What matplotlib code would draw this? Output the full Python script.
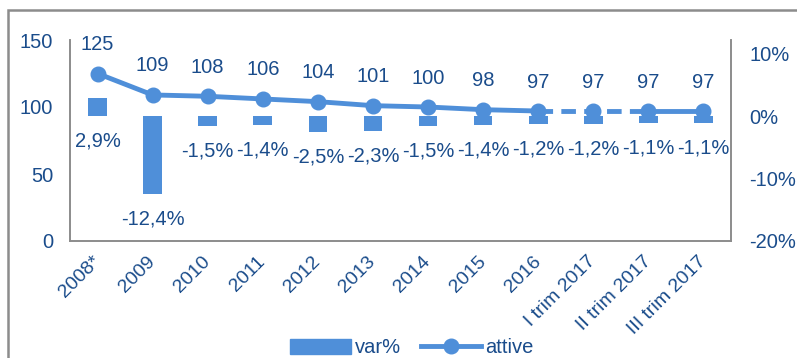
import matplotlib
matplotlib.use("Agg")
import matplotlib.pyplot as plt
from matplotlib.patches import Rectangle
from matplotlib.lines import Line2D
from matplotlib.patches import Patch

plt.rcParams['font.family'] = ['Liberation Sans', 'DejaVu Sans']

categories = ['2008*', '2009', '2010', '2011', '2012', '2013', '2014', '2015',
              '2016', 'I trim 2017', 'II trim 2017', 'III trim 2017']
attive = [125, 109, 108, 106, 104, 101, 100, 98, 97, 97, 97, 97]
var_pct = [2.9, -12.4, -1.5, -1.4, -2.5, -2.3, -1.5, -1.4, -1.2, -1.2, -1.1, -1.1]

blue = '#4f8fd9'
text_col = '#1a4c8b'
grey = '#8c8c8c'
fs = 14.5

fig = plt.figure(figsize=(7.97, 3.58), dpi=100)
ax = fig.add_axes([70/797, 1 - 241/358, (731 - 70)/797, (241 - 40)/358])
ax2 = ax.twinx()

x = list(range(len(categories)))

# bars on the percent scale (right side)
ax.bar(x, var_pct, width=0.34, color=blue, zorder=2)
ax.set_ylim(-20, 12.2)
ax.set_yticks([-20, -10, 0, 10])
ax.set_yticklabels(['-20%', '-10%', '0%', '10%'])
ax.yaxis.tick_right()
ax.set_xlim(-0.5, len(categories) - 0.5)
ax.set_xticks(x)
ax.set_xticklabels(categories, rotation=45, ha='right', va='center',
                   rotation_mode='anchor')
ax.tick_params(axis='x', length=0, pad=13, labelsize=14, labelcolor=text_col)
ax.tick_params(axis='y', length=0, pad=13, labelsize=fs, labelcolor=text_col)

for i, v in enumerate(var_pct):
    lbl = ('%.1f%%' % v).replace('.', ',')
    ax.annotate(lbl, (i, min(v, 0)), xytext=(0, -25), textcoords='offset pixels',
                ha='center', va='center', fontsize=fs, color=text_col)

# line on the count scale (left side)
lw = 3.5
ax2.plot(x[:9], attive[:9], color=blue, lw=lw, solid_capstyle='round', zorder=3)
ax2.plot(x[8:11], attive[8:11], color=blue, lw=lw, linestyle=(0, (3, 1.7)), zorder=3)
ax2.plot(x[10:], attive[10:], color=blue, lw=lw, zorder=3)
ax2.plot(x, attive, linestyle='none', marker='o', markersize=10.5, color=blue, zorder=4)
ax2.set_ylim(0, 150)
ax2.set_yticks([0, 50, 100, 150])
ax2.yaxis.tick_left()
ax2.tick_params(axis='y', length=0, pad=12, labelsize=fs, labelcolor=text_col)

for i, v in enumerate(attive):
    ax2.annotate(str(v), (i, v), xytext=(0, 29), textcoords='offset pixels',
                 ha='center', va='center', fontsize=fs, color=text_col)

for a in (ax, ax2):
    a.spines['top'].set_visible(False)
    for s in ('left', 'right', 'bottom'):
        a.spines[s].set_color(grey)
        a.spines[s].set_linewidth(1.2)

# outer chart border
fig.patches.append(Rectangle((8/797, -0.2), 2, 1 - 10/358 + 0.2, transform=fig.transFigure,
                             fill=False, edgecolor=grey, lw=1.8))

handles = [Patch(color=blue), Line2D([0], [0], color=blue, lw=lw, marker='o', markersize=10.5)]
fig.legend(handles, ['var%', 'attive'], loc='center', bbox_to_anchor=(0.517, 0.028),
           ncol=2, frameon=False, fontsize=fs, labelcolor=text_col,
           handlelength=3, handletextpad=0.2, columnspacing=1.0, handleheight=0.8)

fig.savefig('out.png', dpi=100)
